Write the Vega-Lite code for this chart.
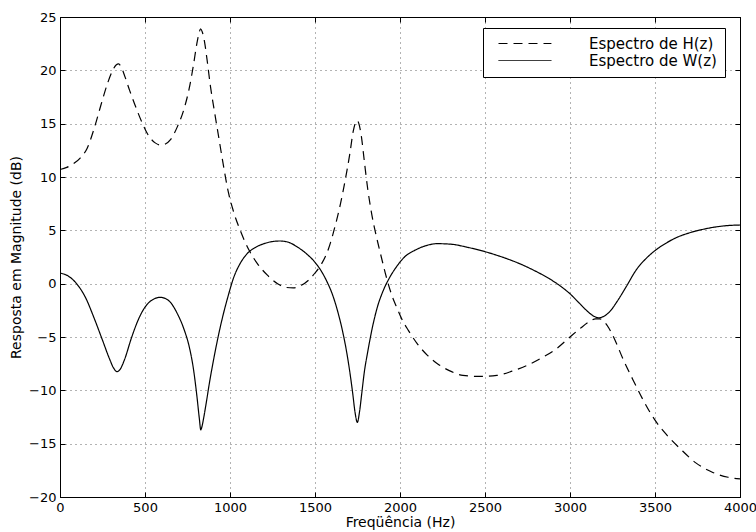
{
  "$schema": "https://vega.github.io/schema/vega-lite/v6.json",
  "width": 680,
  "height": 480,
  "autosize": {"type": "none"},
  "padding": {"left": 60, "top": 17, "right": 16, "bottom": 35},
  "background": "white",
  "config": {
    "font": "DejaVu Sans",
    "view": {"stroke": "black", "strokeWidth": 1},
    "axis": {
      "labelFont": "DejaVu Sans",
      "labelFontSize": 13,
      "labelColor": "black",
      "titleFont": "DejaVu Sans",
      "titleFontWeight": "normal",
      "titleColor": "black",
      "domainColor": "black",
      "tickColor": "black",
      "gridColor": "#666666",
      "gridDash": [1, 4],
      "gridOpacity": 1
    },
    "legend": {
      "orient": "none",
      "legendX": 423,
      "legendY": 11,
      "strokeColor": "black",
      "fillColor": "white",
      "padding": 8,
      "cornerRadius": 0,
      "labelFont": "DejaVu Sans",
      "labelFontSize": 15,
      "labelColor": "black",
      "symbolType": "M0,0H10",
      "symbolSize": 112,
      "symbolOffset": 0,
      "labelOffset": 83,
      "rowPadding": 1,
      "symbolStrokeWidth": 1,
      "symbolStrokeColor": "black"
    }
  },
  "data": {
    "values": [
      {"s": "Espectro de H(z)", "f": 0, "db": 10.7}, {"s": "Espectro de H(z)", "f": 40, "db": 10.9}, {"s": "Espectro de H(z)", "f": 80, "db": 11.25}, {"s": "Espectro de H(z)", "f": 120, "db": 11.8},
      {"s": "Espectro de H(z)", "f": 160, "db": 12.7}, {"s": "Espectro de H(z)", "f": 200, "db": 14.5}, {"s": "Espectro de H(z)", "f": 240, "db": 16.7}, {"s": "Espectro de H(z)", "f": 280, "db": 18.8},
      {"s": "Espectro de H(z)", "f": 310, "db": 20.0}, {"s": "Espectro de H(z)", "f": 330, "db": 20.5}, {"s": "Espectro de H(z)", "f": 345, "db": 20.6}, {"s": "Espectro de H(z)", "f": 360, "db": 20.3},
      {"s": "Espectro de H(z)", "f": 380, "db": 19.5}, {"s": "Espectro de H(z)", "f": 410, "db": 18.1}, {"s": "Espectro de H(z)", "f": 440, "db": 16.8}, {"s": "Espectro de H(z)", "f": 480, "db": 15.2},
      {"s": "Espectro de H(z)", "f": 520, "db": 13.9}, {"s": "Espectro de H(z)", "f": 560, "db": 13.2}, {"s": "Espectro de H(z)", "f": 590, "db": 13.0}, {"s": "Espectro de H(z)", "f": 620, "db": 13.1},
      {"s": "Espectro de H(z)", "f": 650, "db": 13.5}, {"s": "Espectro de H(z)", "f": 690, "db": 14.7}, {"s": "Espectro de H(z)", "f": 730, "db": 16.4}, {"s": "Espectro de H(z)", "f": 760, "db": 18.3},
      {"s": "Espectro de H(z)", "f": 785, "db": 20.5}, {"s": "Espectro de H(z)", "f": 805, "db": 22.5}, {"s": "Espectro de H(z)", "f": 818, "db": 23.5}, {"s": "Espectro de H(z)", "f": 827, "db": 23.9},
      {"s": "Espectro de H(z)", "f": 837, "db": 23.6}, {"s": "Espectro de H(z)", "f": 850, "db": 22.7}, {"s": "Espectro de H(z)", "f": 865, "db": 21.0}, {"s": "Espectro de H(z)", "f": 885, "db": 18.5},
      {"s": "Espectro de H(z)", "f": 910, "db": 16.0}, {"s": "Espectro de H(z)", "f": 935, "db": 13.6}, {"s": "Espectro de H(z)", "f": 960, "db": 11.2}, {"s": "Espectro de H(z)", "f": 990, "db": 8.6},
      {"s": "Espectro de H(z)", "f": 1020, "db": 6.8}, {"s": "Espectro de H(z)", "f": 1060, "db": 5.0}, {"s": "Espectro de H(z)", "f": 1110, "db": 3.2}, {"s": "Espectro de H(z)", "f": 1160, "db": 1.9},
      {"s": "Espectro de H(z)", "f": 1220, "db": 0.8}, {"s": "Espectro de H(z)", "f": 1280, "db": 0.0}, {"s": "Espectro de H(z)", "f": 1330, "db": -0.35}, {"s": "Espectro de H(z)", "f": 1372, "db": -0.4},
      {"s": "Espectro de H(z)", "f": 1420, "db": -0.15}, {"s": "Espectro de H(z)", "f": 1460, "db": 0.3}, {"s": "Espectro de H(z)", "f": 1500, "db": 1.0}, {"s": "Espectro de H(z)", "f": 1540, "db": 1.9},
      {"s": "Espectro de H(z)", "f": 1580, "db": 3.3}, {"s": "Espectro de H(z)", "f": 1615, "db": 5.2}, {"s": "Espectro de H(z)", "f": 1650, "db": 7.5}, {"s": "Espectro de H(z)", "f": 1680, "db": 9.9},
      {"s": "Espectro de H(z)", "f": 1705, "db": 12.2}, {"s": "Espectro de H(z)", "f": 1725, "db": 14.3}, {"s": "Espectro de H(z)", "f": 1738, "db": 15.1}, {"s": "Espectro de H(z)", "f": 1748, "db": 15.3},
      {"s": "Espectro de H(z)", "f": 1758, "db": 15.0}, {"s": "Espectro de H(z)", "f": 1772, "db": 13.9}, {"s": "Espectro de H(z)", "f": 1790, "db": 11.5}, {"s": "Espectro de H(z)", "f": 1810, "db": 8.9},
      {"s": "Espectro de H(z)", "f": 1835, "db": 6.4}, {"s": "Espectro de H(z)", "f": 1860, "db": 4.5}, {"s": "Espectro de H(z)", "f": 1890, "db": 2.5}, {"s": "Espectro de H(z)", "f": 1920, "db": 0.6},
      {"s": "Espectro de H(z)", "f": 1950, "db": -1.0}, {"s": "Espectro de H(z)", "f": 1980, "db": -2.2}, {"s": "Espectro de H(z)", "f": 2010, "db": -3.3}, {"s": "Espectro de H(z)", "f": 2050, "db": -4.4},
      {"s": "Espectro de H(z)", "f": 2100, "db": -5.6}, {"s": "Espectro de H(z)", "f": 2160, "db": -6.7}, {"s": "Espectro de H(z)", "f": 2220, "db": -7.5}, {"s": "Espectro de H(z)", "f": 2290, "db": -8.15},
      {"s": "Espectro de H(z)", "f": 2370, "db": -8.6}, {"s": "Espectro de H(z)", "f": 2470, "db": -8.7}, {"s": "Espectro de H(z)", "f": 2570, "db": -8.6}, {"s": "Espectro de H(z)", "f": 2660, "db": -8.2},
      {"s": "Espectro de H(z)", "f": 2750, "db": -7.65}, {"s": "Espectro de H(z)", "f": 2840, "db": -6.9}, {"s": "Espectro de H(z)", "f": 2920, "db": -6.1}, {"s": "Espectro de H(z)", "f": 3000, "db": -5.0},
      {"s": "Espectro de H(z)", "f": 3060, "db": -4.2}, {"s": "Espectro de H(z)", "f": 3110, "db": -3.6}, {"s": "Espectro de H(z)", "f": 3150, "db": -3.3}, {"s": "Espectro de H(z)", "f": 3175, "db": -3.3},
      {"s": "Espectro de H(z)", "f": 3200, "db": -3.55}, {"s": "Espectro de H(z)", "f": 3230, "db": -4.2}, {"s": "Espectro de H(z)", "f": 3265, "db": -5.3}, {"s": "Espectro de H(z)", "f": 3310, "db": -7.0},
      {"s": "Espectro de H(z)", "f": 3370, "db": -9.0}, {"s": "Espectro de H(z)", "f": 3430, "db": -10.9}, {"s": "Espectro de H(z)", "f": 3500, "db": -12.8}, {"s": "Espectro de H(z)", "f": 3570, "db": -14.2},
      {"s": "Espectro de H(z)", "f": 3650, "db": -15.5}, {"s": "Espectro de H(z)", "f": 3740, "db": -16.8}, {"s": "Espectro de H(z)", "f": 3840, "db": -17.7}, {"s": "Espectro de H(z)", "f": 3930, "db": -18.15},
      {"s": "Espectro de H(z)", "f": 4000, "db": -18.3},
      {"s": "Espectro de W(z)", "f": 0, "db": 1.0}, {"s": "Espectro de W(z)", "f": 50, "db": 0.7}, {"s": "Espectro de W(z)", "f": 100, "db": -0.05}, {"s": "Espectro de W(z)", "f": 150, "db": -1.3},
      {"s": "Espectro de W(z)", "f": 200, "db": -3.2}, {"s": "Espectro de W(z)", "f": 250, "db": -5.3}, {"s": "Espectro de W(z)", "f": 290, "db": -7.0}, {"s": "Espectro de W(z)", "f": 315, "db": -7.9},
      {"s": "Espectro de W(z)", "f": 335, "db": -8.25}, {"s": "Espectro de W(z)", "f": 355, "db": -8.0}, {"s": "Espectro de W(z)", "f": 380, "db": -7.1}, {"s": "Espectro de W(z)", "f": 420, "db": -5.1},
      {"s": "Espectro de W(z)", "f": 460, "db": -3.4}, {"s": "Espectro de W(z)", "f": 500, "db": -2.2}, {"s": "Espectro de W(z)", "f": 540, "db": -1.55}, {"s": "Espectro de W(z)", "f": 590, "db": -1.28},
      {"s": "Espectro de W(z)", "f": 640, "db": -1.6}, {"s": "Espectro de W(z)", "f": 690, "db": -2.8}, {"s": "Espectro de W(z)", "f": 730, "db": -4.3}, {"s": "Espectro de W(z)", "f": 760, "db": -5.9},
      {"s": "Espectro de W(z)", "f": 785, "db": -8.0}, {"s": "Espectro de W(z)", "f": 805, "db": -10.5}, {"s": "Espectro de W(z)", "f": 820, "db": -12.7}, {"s": "Espectro de W(z)", "f": 828, "db": -13.7},
      {"s": "Espectro de W(z)", "f": 835, "db": -13.4}, {"s": "Espectro de W(z)", "f": 845, "db": -12.6}, {"s": "Espectro de W(z)", "f": 860, "db": -11.2}, {"s": "Espectro de W(z)", "f": 880, "db": -9.2},
      {"s": "Espectro de W(z)", "f": 905, "db": -7.0}, {"s": "Espectro de W(z)", "f": 930, "db": -5.0}, {"s": "Espectro de W(z)", "f": 960, "db": -2.9}, {"s": "Espectro de W(z)", "f": 990, "db": -1.1},
      {"s": "Espectro de W(z)", "f": 1020, "db": 0.5}, {"s": "Espectro de W(z)", "f": 1060, "db": 1.9}, {"s": "Espectro de W(z)", "f": 1100, "db": 2.8}, {"s": "Espectro de W(z)", "f": 1150, "db": 3.4},
      {"s": "Espectro de W(z)", "f": 1200, "db": 3.75}, {"s": "Espectro de W(z)", "f": 1250, "db": 3.95}, {"s": "Espectro de W(z)", "f": 1294, "db": 4.0}, {"s": "Espectro de W(z)", "f": 1340, "db": 3.9},
      {"s": "Espectro de W(z)", "f": 1400, "db": 3.4}, {"s": "Espectro de W(z)", "f": 1450, "db": 2.8}, {"s": "Espectro de W(z)", "f": 1500, "db": 2.0}, {"s": "Espectro de W(z)", "f": 1540, "db": 1.1},
      {"s": "Espectro de W(z)", "f": 1570, "db": 0.2}, {"s": "Espectro de W(z)", "f": 1600, "db": -0.9}, {"s": "Espectro de W(z)", "f": 1630, "db": -2.4}, {"s": "Espectro de W(z)", "f": 1660, "db": -4.3},
      {"s": "Espectro de W(z)", "f": 1685, "db": -6.3}, {"s": "Espectro de W(z)", "f": 1705, "db": -8.3}, {"s": "Espectro de W(z)", "f": 1722, "db": -10.3}, {"s": "Espectro de W(z)", "f": 1735, "db": -12.0},
      {"s": "Espectro de W(z)", "f": 1749, "db": -13.0}, {"s": "Espectro de W(z)", "f": 1762, "db": -12.0}, {"s": "Espectro de W(z)", "f": 1775, "db": -10.3}, {"s": "Espectro de W(z)", "f": 1790, "db": -8.3},
      {"s": "Espectro de W(z)", "f": 1810, "db": -6.4}, {"s": "Espectro de W(z)", "f": 1835, "db": -4.3}, {"s": "Espectro de W(z)", "f": 1865, "db": -2.3}, {"s": "Espectro de W(z)", "f": 1900, "db": -0.7},
      {"s": "Espectro de W(z)", "f": 1940, "db": 0.6}, {"s": "Espectro de W(z)", "f": 1980, "db": 1.6}, {"s": "Espectro de W(z)", "f": 2030, "db": 2.55}, {"s": "Espectro de W(z)", "f": 2090, "db": 3.15},
      {"s": "Espectro de W(z)", "f": 2150, "db": 3.55}, {"s": "Espectro de W(z)", "f": 2220, "db": 3.75}, {"s": "Espectro de W(z)", "f": 2300, "db": 3.7}, {"s": "Espectro de W(z)", "f": 2400, "db": 3.4},
      {"s": "Espectro de W(z)", "f": 2500, "db": 3.0}, {"s": "Espectro de W(z)", "f": 2600, "db": 2.5}, {"s": "Espectro de W(z)", "f": 2700, "db": 1.9}, {"s": "Espectro de W(z)", "f": 2800, "db": 1.15},
      {"s": "Espectro de W(z)", "f": 2880, "db": 0.45}, {"s": "Espectro de W(z)", "f": 2950, "db": -0.3}, {"s": "Espectro de W(z)", "f": 3000, "db": -0.95}, {"s": "Espectro de W(z)", "f": 3050, "db": -1.75},
      {"s": "Espectro de W(z)", "f": 3100, "db": -2.55}, {"s": "Espectro de W(z)", "f": 3140, "db": -3.05}, {"s": "Espectro de W(z)", "f": 3171, "db": -3.2}, {"s": "Espectro de W(z)", "f": 3200, "db": -3.05},
      {"s": "Espectro de W(z)", "f": 3235, "db": -2.6}, {"s": "Espectro de W(z)", "f": 3280, "db": -1.6}, {"s": "Espectro de W(z)", "f": 3330, "db": -0.3}, {"s": "Espectro de W(z)", "f": 3390, "db": 1.3},
      {"s": "Espectro de W(z)", "f": 3450, "db": 2.4}, {"s": "Espectro de W(z)", "f": 3500, "db": 3.1}, {"s": "Espectro de W(z)", "f": 3560, "db": 3.75}, {"s": "Espectro de W(z)", "f": 3630, "db": 4.35},
      {"s": "Espectro de W(z)", "f": 3700, "db": 4.75}, {"s": "Espectro de W(z)", "f": 3770, "db": 5.05}, {"s": "Espectro de W(z)", "f": 3850, "db": 5.3}, {"s": "Espectro de W(z)", "f": 3930, "db": 5.45},
      {"s": "Espectro de W(z)", "f": 4000, "db": 5.5}
    ]
  },
  "layer": [
    {
      "mark": {"type": "line", "color": "black", "strokeWidth": 1.2, "interpolate": "monotone", "clip": true},
      "encoding": {
        "x": {
          "field": "f", "type": "quantitative",
          "scale": {"domain": [0, 4000], "nice": false, "zero": false},
          "axis": {
            "orient": "bottom",
            "values": [0, 500, 1000, 1500, 2000, 2500, 3000, 3500, 4000],
            "format": "d",
            "title": "Freqüência (Hz)",
            "titleFontSize": 14,
            "titlePadding": 1,
            "grid": true,
            "tickSize": -5,
            "labelPadding": 9,
            "labelFlush": false
          }
        },
        "y": {
          "field": "db", "type": "quantitative",
          "scale": {"domain": [-20, 25], "nice": false, "zero": false},
          "axis": {
            "orient": "left",
            "values": [-20, -15, -10, -5, 0, 5, 10, 15, 20, 25],
            "format": "d",
            "title": "Resposta em Magnitude (dB)",
            "titleFontSize": 14,
            "titlePadding": 5,
            "grid": true,
            "tickSize": -5,
            "labelPadding": 9
          }
        },
        "strokeDash": {
          "field": "s", "type": "nominal",
          "scale": {"domain": ["Espectro de H(z)", "Espectro de W(z)"], "range": [[9, 6], [1, 0]]},
          "legend": {
            "title": null,
            "encode": {
              "symbols": {
                "update": {
                  "strokeDash": {"signal": "datum.value === 'Espectro de H(z)' ? [12, 8] : [1, 0]"}
                }
              }
            }
          }
        },
        "order": {"field": "f", "type": "quantitative"}
      }
    },
    {
      "mark": {"type": "point", "opacity": 0},
      "encoding": {
        "x": {
          "field": "f", "type": "quantitative",
          "axis": {"orient": "top", "values": [0, 500, 1000, 1500, 2000, 2500, 3000, 3500, 4000], "labels": false, "title": null, "grid": false, "tickSize": -5}
        },
        "y": {
          "field": "db", "type": "quantitative",
          "axis": {"orient": "right", "values": [-20, -15, -10, -5, 0, 5, 10, 15, 20, 25], "labels": false, "title": null, "grid": false, "tickSize": -5}
        }
      }
    }
  ],
  "resolve": {"axis": {"x": "independent", "y": "independent"}}
}
